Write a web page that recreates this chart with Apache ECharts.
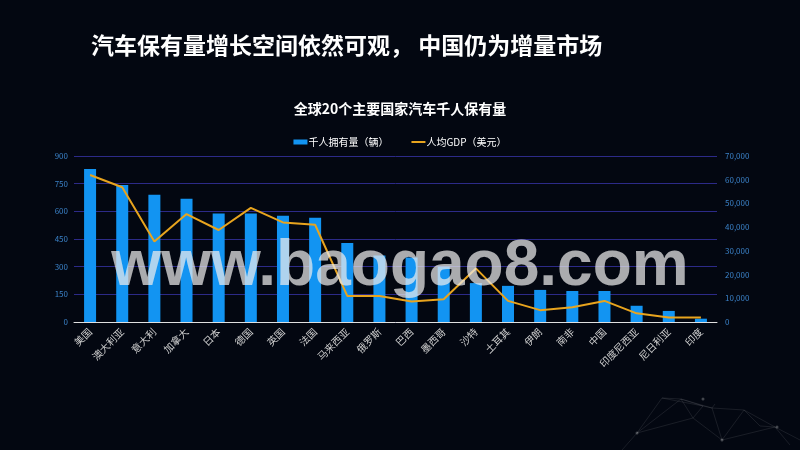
<!DOCTYPE html>
<html><head><meta charset="utf-8">
<script src="https://cdn.jsdelivr.net/npm/echarts@6/dist/echarts.min.js"></script>
<style>html,body{margin:0;padding:0;background:#030711;}#c{width:800px;height:450px;}</style>
</head><body><div id="c"></div>
<script>
const countries = ['美国','澳大利亚','意大利','加拿大','日本','德国','英国','法国','马来西亚','俄罗斯','巴西','墨西哥','沙特','土耳其','伊朗','南非','中国','印度尼西亚','尼日利亚','印度'];
const carsPer1000 = [830,743,690,668,588,588,576,565,428,360,350,300,211,196,174,168,168,88,60,18];
const gdpPerCapita = [62000,56800,33900,45500,38800,48100,42000,41000,11000,11000,8600,9600,22600,8900,5000,6200,8900,3650,1900,1900];
const leftTicks = [0,150,300,450,600,750,900];
const rightTicks = [0,10000,20000,30000,40000,50000,60000,70000];

const chart = echarts.init(document.getElementById('c'));
const font = '"Noto Sans CJK SC", "Microsoft YaHei", sans-serif';
const deco = 'rgba(255,255,255,0.09)';
function seg(pts){ return {type:'polyline', silent:true, shape:{points:pts}, style:{stroke:deco, lineWidth:1, fill:null}}; }
function dot(x,y){ return {type:'circle', silent:true, shape:{cx:x, cy:y, r:1.5}, style:{fill:'rgba(255,255,255,0.25)'}}; }
chart.setOption({
  backgroundColor: '#030711',
  animation: false,
  textStyle: {fontFamily: font},
  title: [
    {text: '汽车保有量增长空间依然可观， 中国仍为增量市场', left: 86, top: 29,
     textStyle: {color: '#ffffff', fontSize: 23, fontWeight: 'bold', fontFamily: font}},
    {text: '全球20个主要国家汽车千人保有量', left: 'center', top: 97,
     textStyle: {color: '#ffffff', fontSize: 14, fontWeight: 'bold', fontFamily: font}}
  ],
  legend: {
    top: 132, left: 'center', itemGap: 22, itemWidth: 14, itemHeight: 5,
    textStyle: {color: '#ffffff', fontSize: 10, fontFamily: font, padding: [0,0,0,-4]},
    data: [{name: '千人拥有量（辆）', icon: 'rect'},
           {name: '人均GDP（美元）', itemStyle: {opacity: 0}}]
  },
  grid: {left: 74, right: 83, top: 156, bottom: 128, containLabel: false},
  xAxis: {
    type: 'category', data: countries,
    axisLine: {lineStyle: {color: '#e0e0e0', width: 1}},
    axisTick: {show: false},
    axisLabel: {rotate: 45, color: '#d0d0d0', fontSize: 10, margin: 8, interval: 0, fontFamily: font}
  },
  yAxis: [
    {type: 'value', min: leftTicks[0], max: leftTicks[leftTicks.length-1], interval: 150,
     axisLine: {show: false}, axisTick: {show: false},
     axisLabel: {color: '#3b82c8', fontSize: 8, margin: 6},
     splitLine: {lineStyle: {color: '#2c2a88', width: 1}}},
    {type: 'value', min: rightTicks[0], max: rightTicks[rightTicks.length-1], interval: 10000,
     axisLine: {show: false}, axisTick: {show: false},
     axisLabel: {color: '#3b82c8', fontSize: 8, margin: 8,
       formatter: v => v.toLocaleString('en-US')},
     splitLine: {show: false}}
  ],
  series: [
    {name: '千人拥有量（辆）', type: 'bar', data: carsPer1000, barWidth: 12,
     itemStyle: {color: '#1294f2'}, z: 2},
    {name: '人均GDP（美元）', type: 'line', yAxisIndex: 1, data: gdpPerCapita,
     symbol: 'none', lineStyle: {color: '#e8a41e', width: 2}, itemStyle: {color: '#e8a41e'}, z: 3}
  ],
  graphic: [
    {type: 'text', left: 'center', top: 235, z: 100,
     style: {text: 'www.baogao8.com', fill: 'rgba(236,236,236,0.72)',
       font: 'bold 64px "Liberation Sans", Arial, sans-serif'}},
    seg([[622,450],[637,433],[662,398],[681,399],[703,406],[712,408],[744,410],[760,426],[775,427],[800,440]]),
    seg([[637,433],[681,399],[693,418],[722,440],[744,410]]),
    seg([[662,398],[703,406],[693,418],[637,433]]),
    seg([[712,408],[722,440],[775,427],[790,445]]),
    seg([[681,399],[712,408],[715,404]]),
    seg([[744,410],[775,427]]),
    dot(637,433), dot(703,399), dot(722,440), dot(777,427)
  ]
});
</script></body></html>
